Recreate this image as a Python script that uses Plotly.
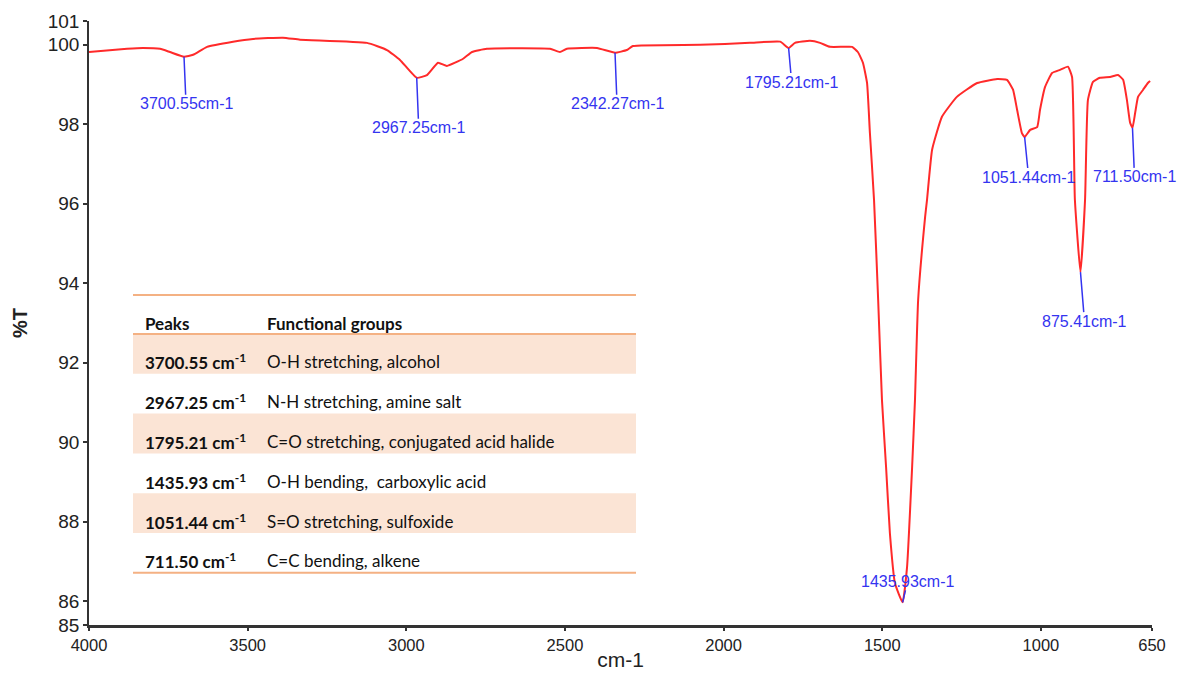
import plotly.graph_objects as go

# FTIR spectrum: wavenumber (cm-1) and transmittance (%T)
wavenumber = [4000, 3880, 3830, 3776, 3745, 3700.55, 3672, 3628, 3546, 3483, 3389, 3335,
              3124, 3061, 3020, 2967.25, 2935, 2900, 2872, 2821, 2793, 2746, 2547, 2516,
              2494, 2399, 2342.27, 2305, 2286, 2074, 1917, 1822, 1795.21, 1775, 1728,
              1696, 1665, 1624, 1595, 1577, 1561, 1548, 1539, 1526, 1513, 1501, 1488,
              1476, 1460, 1435.93, 1422, 1406, 1397, 1387, 1365, 1359, 1343, 1312, 1265,
              1201, 1138, 1107, 1088, 1075, 1060, 1051.44, 1034, 1012, 1003, 987, 965,
              940, 915, 902, 893, 875.41, 861, 852, 836, 814, 782, 757, 741, 729, 719,
              711.50, 703, 694, 678, 663, 656]
transmittance = [99.82, 99.90, 99.92, 99.90, 99.82, 99.70, 99.75, 99.95, 100.08, 100.15, 100.18, 100.13,
                 100.05, 99.87, 99.62, 99.17, 99.24, 99.55, 99.47, 99.65, 99.82, 99.90, 99.90, 99.82,
                 99.90, 99.92, 99.80, 99.87, 99.97, 100.00, 100.05, 100.08, 99.92, 100.05, 100.10,
                 100.05, 99.95, 99.95, 99.95, 99.82, 99.55, 99.04, 97.78, 96.10, 93.58, 91.06, 89.37,
                 87.71, 86.45, 85.97, 86.85, 89.37, 91.06, 93.58, 95.67, 96.10, 97.36, 98.19, 98.69,
                 99.04, 99.14, 99.12, 98.87, 98.36, 97.78, 97.68, 97.86, 97.93, 98.36, 98.94, 99.29,
                 99.37, 99.45, 99.19, 96.10, 94.28, 96.10, 98.61, 99.07, 99.17, 99.19, 99.24, 99.12, 98.61, 98.04,
                 97.91, 98.29, 98.69, 98.87, 99.04, 99.09]

# Labelled peaks
peak_wn = [3700.55, 2967.25, 2342.27, 1795.21, 1435.93, 1051.44, 875.41, 711.50]

# Peak assignment table
table_peaks = ["3700.55", "2967.25", "1795.21", "1435.93", "1051.44", "711.50"]
table_groups = ["O-H stretching, alcohol", "N-H stretching, amine salt",
                "C=O stretching, conjugated acid halide", "O-H bending,  carboxylic acid",
                "S=O stretching, sulfoxide", "C=C bending, alkene"]

# Axis ticks
x_ticks = [4000, 3500, 3000, 2500, 2000, 1500, 1000, 650]
y_ticks = [86, 88, 90, 92, 94, 96, 98, 100]
y_lo, y_hi = 85.4, 100.6
y_lo_label, y_hi_label = "85", "101"

W, H = 1177, 678
L, R, T, B = 89, 25, 21, 53
PW, PH = W - L - R, H - T - B


def px_x(px):
    return (px - L) / PW


def px_y(py):
    return (H - B - py) / PH


fig = go.Figure()
fig.add_trace(go.Scatter(
    x=wavenumber, y=transmittance, mode="lines",
    line=dict(color="#ff2a2a", width=2, shape="spline", smoothing=0.4),
    hoverinfo="x+y", showlegend=False,
))

# Peak labels with leader lines
label_offsets = {
    3700.55: (2, 47), 2967.25: (2, 50), 2342.27: (2, 51), 1795.21: (3, 34),
    1435.93: (5, -21), 1051.44: (4, 40), 875.41: (4, 49), 711.50: (2, 49),
}
blue = "#3434f0"
for wn in peak_wn:
    t = transmittance[wavenumber.index(wn)]
    ax, ay = label_offsets[wn]
    fig.add_annotation(
        x=wn, y=t, text=f"{wn:.2f}cm-1", showarrow=True, arrowhead=0,
        arrowcolor=blue, arrowwidth=1.5, ax=ax, ay=ay,
        font=dict(family="Liberation Sans, Arial", size=16, color=blue),
        borderpad=0,
    )

# Table: rules, shaded rows, and text
line_col = "#f4b183"
fill_col = "#fbe4d5"
tx0, tx1 = px_x(133), px_x(636)
top_rule, head_rule = 295, 334
row_h = 39.8
shapes = []
for i in range(len(table_peaks)):
    if i % 2 == 0:
        y0 = head_rule + i * row_h
        shapes.append(dict(type="rect", xref="paper", yref="paper",
                           x0=tx0, x1=tx1, y0=px_y(y0 + row_h), y1=px_y(y0),
                           fillcolor=fill_col, line=dict(width=0), layer="below"))
bottom_rule = head_rule + len(table_peaks) * row_h
for py in (top_rule, head_rule, bottom_rule):
    shapes.append(dict(type="line", xref="paper", yref="paper",
                       x0=tx0, x1=tx1, y0=px_y(py), y1=px_y(py),
                       line=dict(color=line_col, width=2)))

tfont = dict(family="Lato, Open Sans, sans-serif", size=17, color="#111111")
col1, col2 = px_x(143), px_x(265)
fig.add_annotation(xref="paper", yref="paper", x=col1, y=px_y(323), text="<b>Peaks</b>",
                   showarrow=False, xanchor="left", yanchor="middle", font=tfont)
fig.add_annotation(xref="paper", yref="paper", x=col2, y=px_y(323), text="<b>Functional groups</b>",
                   showarrow=False, xanchor="left", yanchor="middle", font=tfont)
for i, (pk, grp) in enumerate(zip(table_peaks, table_groups)):
    yc = px_y(head_rule + (i + 1) * row_h - 12)
    fig.add_annotation(xref="paper", yref="paper", x=col1, y=yc,
                       text=f"<b>{pk} cm<sup>-1</sup></b>", showarrow=False,
                       xanchor="left", yanchor="middle", font=tfont)
    fig.add_annotation(xref="paper", yref="paper", x=col2, y=yc, text=grp,
                       showarrow=False, xanchor="left", yanchor="middle", font=tfont)

fig.update_layout(
    width=W, height=H,
    margin=dict(l=L, r=R, t=T, b=B),
    paper_bgcolor="white", plot_bgcolor="white",
    shapes=shapes,
    xaxis=dict(
        range=[4000, 650], tickvals=x_ticks, ticktext=[str(v) for v in x_ticks],
        showgrid=False, zeroline=False, showline=True, linecolor="#333333", linewidth=2.5,
        ticks="outside", ticklen=3, tickcolor="#333333", tickwidth=1.5,
        tickfont=dict(family="Liberation Sans, Arial", size=16.5, color="#222222"),
        automargin=False,
        title=dict(text="cm-1", font=dict(family="Liberation Sans, Arial", size=21, color="#222222"),
                   standoff=0),
    ),
    yaxis=dict(
        range=[y_lo, y_hi],
        tickvals=[y_lo] + y_ticks + [y_hi],
        ticktext=[y_lo_label] + [str(v) for v in y_ticks] + [y_hi_label],
        showgrid=False, zeroline=False, showline=True, linecolor="#333333", linewidth=1.5,
        ticks="outside", ticklen=4, tickcolor="#333333", tickwidth=1.5,
        tickfont=dict(family="Liberation Sans, Arial", size=19, color="#222222"),
        automargin=False,
        title=dict(text="<b>%T</b>", font=dict(family="Liberation Sans, Arial", size=20, color="#222222"),
                   standoff=15),
    ),
)

fig.write_html("out.html")
